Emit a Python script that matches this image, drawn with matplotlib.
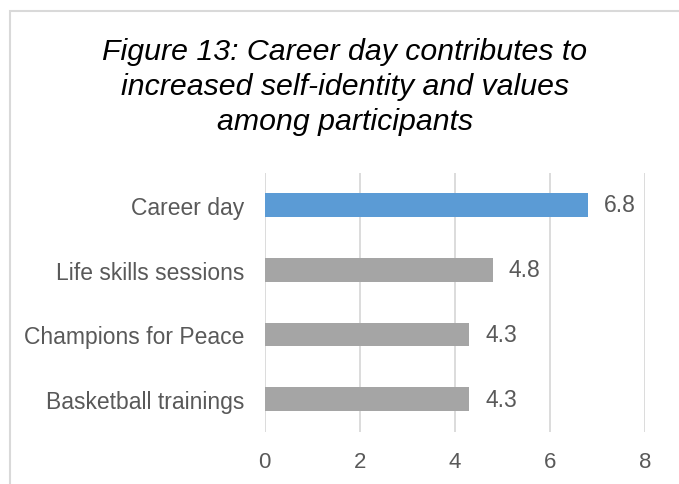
import matplotlib.pyplot as plt
from matplotlib.patches import Rectangle

# survey results, top to bottom
activities = ["Career day", "Life skills sessions", "Champions for Peace", "Basketball trainings"]
scores = [6.8, 4.8, 4.3, 4.3]
colors = ["#5b9bd5", "#a5a5a5", "#a5a5a5", "#a5a5a5"]
xticks = [0, 2, 4, 6, 8]

plt.rcParams['font.family'] = ['Liberation Sans', 'DejaVu Sans']
text_gray = "#595959"
grid_gray = "#d9d9d9"

fig = plt.figure(figsize=(6.79, 4.85), dpi=100)
ax = fig.add_axes([0.390, 0.108, 0.5597, 0.5341])

ypos = list(range(len(activities)))[::-1]
ax.barh(ypos, scores, height=0.37, color=colors, zorder=3)
for y, v in zip(ypos, scores):
    ax.annotate(f"{v}", (v, y), xytext=(11.5, 0), textcoords="offset points",
                va="center", ha="left", fontsize=16.5, color=text_gray)

ax.set_xlim(0, 8)
ax.set_ylim(-0.5, 3.5)
ax.set_xticks(xticks)
ax.set_yticks(ypos)
ax.set_yticklabels(activities)
ax.tick_params(axis="y", length=0, pad=15, labelsize=16.5, labelcolor=text_gray)
ax.tick_params(axis="x", length=0, pad=14, labelsize=16, labelcolor=text_gray)
ax.grid(axis="x", color=grid_gray, linewidth=1.3, zorder=0)
for s in ax.spines.values():
    s.set_visible(False)

fig.text(0.508, 0.8206,
         "Figure 13: Career day contributes to\nincreased self-identity and values\namong participants",
         ha="center", va="center", fontsize=21.8, style="italic", color="black",
         linespacing=1.33)

# chart area border
fig.patches.append(Rectangle((10 / 679, -0.05), 1.2, 1 - 12 / 485 + 0.05,
                             transform=fig.transFigure, fill=False,
                             edgecolor=grid_gray, linewidth=1.5))

fig.savefig("out.png", dpi=100)
